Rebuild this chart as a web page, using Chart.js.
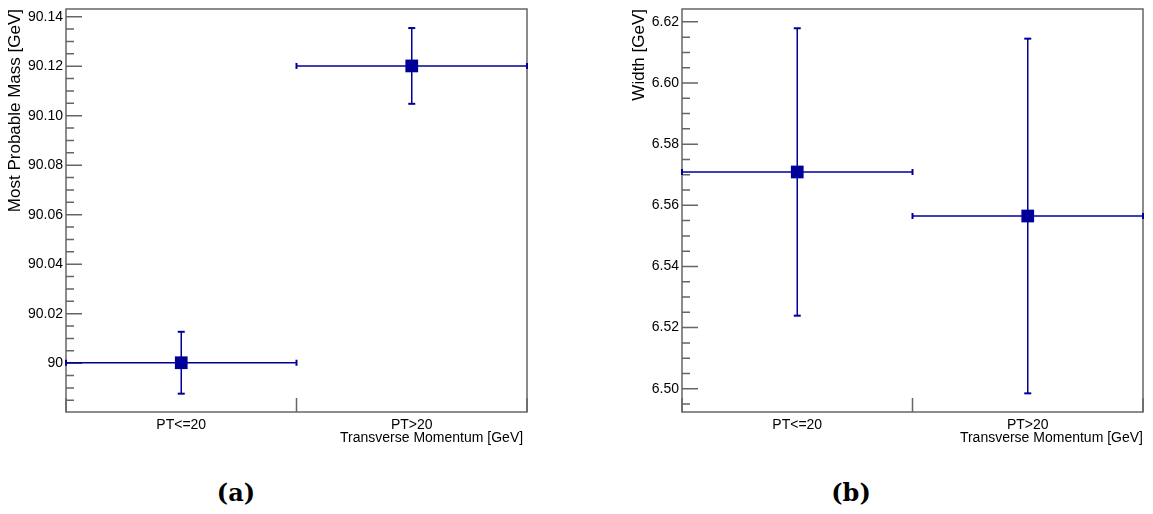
<!DOCTYPE html>
<html><head><meta charset="utf-8">
<script src="https://cdn.jsdelivr.net/npm/chart.js@4.4.0/dist/chart.umd.min.js"></script>
<style>
html,body{margin:0;padding:0;background:#fff;}
body{width:1153px;height:514px;position:relative;overflow:hidden;}
.wrap{position:absolute;top:0;height:460px;}
#wa{left:0;width:576px;}
#wb{left:576px;width:577px;}
.cap{position:absolute;top:478px;line-height:30px;font-family:"DejaVu Serif",serif;font-weight:bold;font-size:24px;color:#000;transform:translateX(-50%);white-space:nowrap;}
</style></head><body>
<div class="wrap" id="wa"><canvas id="ca" width="576" height="460"></canvas></div>
<div class="wrap" id="wb"><canvas id="cb" width="577" height="460"></canvas></div>
<div class="cap" style="left:236px">(a)</div>
<div class="cap" style="left:851px">(b)</div>
<script>
// ---- data ----
const categories = ['PT<=20', 'PT>20'];
const binEdges = [0, 1, 2];
const binCenters = [0.5, 1.5];
const massValues = [90.0002, 90.1201];
const massErrors = [0.0125, 0.0153];
const widthValues = [6.5709, 6.5565];
const widthErrors = [0.0470, 0.0580];
const massTicks = [90.00, 90.02, 90.04, 90.06, 90.08, 90.10, 90.12, 90.14];
const massTickLabels = ['90', '90.02', '90.04', '90.06', '90.08', '90.10', '90.12', '90.14'];
const widthTicks = [6.50, 6.52, 6.54, 6.56, 6.58, 6.60, 6.62];
const widthTickLabels = ['6.50', '6.52', '6.54', '6.56', '6.58', '6.60', '6.62'];
const massRange = [89.9803, 90.1431];
const widthRange = [6.4924, 6.6242];
const minorStep = 0.005;

const BLUE = '#000099';
const FRAME = '#666666';
const FONT = "'Liberation Sans', Arial, sans-serif";

const framePlugin = {
  id: 'rootFrame',
  beforeDatasetsDraw(chart) {
    const ctx = chart.ctx, a = chart.chartArea;
    const ys = chart.scales.y, xs = chart.scales.x;
    ctx.save();
    ctx.strokeStyle = FRAME;
    ctx.lineWidth = 1.5;
    ctx.beginPath();
    // minor y ticks
    const k0 = Math.ceil(ys.min / minorStep - 1e-6), k1 = Math.floor(ys.max / minorStep + 1e-6);
    for (let k = k0; k <= k1; k++) {
      const py = ys.getPixelForValue(k * minorStep);
      ctx.moveTo(a.left, py); ctx.lineTo(a.left + 8, py);
    }
    // major y ticks
    ys.ticks.forEach(t => {
      const py = ys.getPixelForValue(t.value);
      ctx.moveTo(a.left, py); ctx.lineTo(a.left + 16, py);
    });
    // x bin edge ticks
    binEdges.forEach(e => {
      const px = xs.getPixelForValue(e);
      ctx.moveTo(px, a.bottom); ctx.lineTo(px, a.bottom - 14);
    });
    ctx.stroke();
    ctx.strokeRect(a.left, a.top, a.right - a.left, a.bottom - a.top);
    ctx.restore();
  }
};

function makeDatasets(values, errors) {
  const ds = [{
    data: binCenters.map((c, i) => ({x: c, y: values[i]})),
    pointStyle: 'rect', pointRadius: 9, pointHoverRadius: 9,
    backgroundColor: BLUE, borderColor: BLUE, pointBorderWidth: 0, showLine: false
  }];
  values.forEach((v, i) => {
    ds.push({
      data: [{x: binEdges[i], y: v}, {x: binEdges[i + 1], y: v}],
      showLine: true, borderColor: BLUE, borderWidth: 1.5,
      pointStyle: 'line', pointRotation: 90, pointRadius: 3, pointBorderWidth: 2,
      pointBorderColor: BLUE, pointBackgroundColor: BLUE, clip: false
    });
    ds.push({
      data: [{x: binCenters[i], y: v - errors[i]}, {x: binCenters[i], y: v + errors[i]}],
      showLine: true, borderColor: BLUE, borderWidth: 1.5,
      pointStyle: 'line', pointRotation: 0, pointRadius: 3.5, pointBorderWidth: 2,
      pointBorderColor: BLUE, pointBackgroundColor: BLUE, clip: false
    });
  });
  return ds;
}

function makeChart(id, cfg) {
  return new Chart(document.getElementById(id), {
    type: 'scatter',
    data: {datasets: makeDatasets(cfg.values, cfg.errors)},
    plugins: [framePlugin],
    options: {
      responsive: false, animation: false, events: [],
      layout: {padding: {top: 8, left: 0, right: cfg.padRight, bottom: 0}},
      plugins: {legend: {display: false}, tooltip: {enabled: false}},
      elements: {line: {tension: 0, fill: false}},
      scales: {
        x: {
          type: 'linear', min: 0, max: 2, bounds: 'data',
          grid: {display: false, drawTicks: false, tickLength: 0},
          border: {display: false},
          ticks: {padding: 5, color: '#000', font: {family: FONT, size: 14}, maxRotation: 0, autoSkip: false,
            callback: (v, i) => categories[i]},
          title: {display: true, text: cfg.xTitle, align: 'end', color: '#000',
            font: {family: FONT, size: 14}, padding: {top: 0, bottom: 13}},
          afterBuildTicks: s => { s.ticks = binCenters.map(v => ({value: v})); },
          afterFit: s => { s.height = 48; s.paddingLeft = 0; s.paddingRight = 0; }
        },
        y: {
          type: 'linear', min: cfg.range[0], max: cfg.range[1], bounds: 'data',
          grid: {display: false, drawTicks: false, tickLength: 0},
          border: {display: false},
          ticks: {padding: 3, color: '#000', font: {family: FONT, size: 14},
            callback: (v, i) => cfg.tickLabels[i]},
          title: {display: true, text: cfg.yTitle, align: 'end', color: '#000',
            font: {family: FONT, size: 17}, padding: {top: cfg.yTitlePad, bottom: 0}},
          afterBuildTicks: s => { s.ticks = cfg.ticks.map(v => ({value: v})); },
          afterFit: s => { s.width = cfg.yWidth; s.paddingTop = 0; s.paddingBottom = 0; }
        }
      }
    }
  });
}

makeChart('ca', {
  values: massValues, errors: massErrors, range: massRange,
  ticks: massTicks, tickLabels: massTickLabels,
  yTitle: 'Most Probable Mass [GeV]', xTitle: 'Transverse Momentum [GeV] ',
  padRight: 49, yWidth: 66, yTitlePad: 5.5
});
makeChart('cb', {
  values: widthValues, errors: widthErrors, range: widthRange,
  ticks: widthTicks, tickLabels: widthTickLabels,
  yTitle: 'Width [GeV]', xTitle: 'Transverse Momentum [GeV]',
  padRight: 10, yWidth: 106, yTitlePad: 52.8
});
</script>
</body></html>
